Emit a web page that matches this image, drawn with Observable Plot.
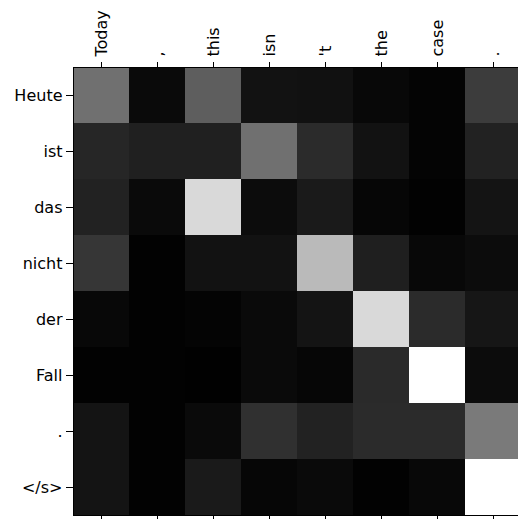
<!DOCTYPE html>
<html>
<head>
<meta charset="utf-8">
<script src="https://cdn.jsdelivr.net/npm/d3@7"></script>
<script src="https://cdn.jsdelivr.net/npm/@observablehq/plot@0.6"></script>
<style>
  html, body { margin: 0; padding: 0; background: #fff; overflow: hidden; }
  #chart svg { display: block; max-width: none !important; }
</style>
</head>
<body>
<div id="chart"></div>
<script>
// Source (English) tokens along the top, target (German) tokens down the side
const sourceTokens = ["Today", ",", "this", "isn", "'t", "the", "case", "."];
const targetTokens = ["Heute", "ist", "das", "nicht", "der", "Fall", ".", "</s>"];

// Attention weights, one row per target token (read from grey levels)
const rowHeute = [0.44, 0.04, 0.37, 0.07, 0.067, 0.03, 0.016, 0.235];
const rowIst   = [0.15, 0.125, 0.125, 0.44, 0.17, 0.07, 0.016, 0.135];
const rowDas   = [0.135, 0.04, 0.85, 0.047, 0.10, 0.024, 0.008, 0.08];
const rowNicht = [0.21, 0.008, 0.07, 0.07, 0.73, 0.12, 0.03, 0.047];
const rowDer   = [0.03, 0.008, 0.016, 0.04, 0.08, 0.85, 0.17, 0.086];
const rowFall  = [0.008, 0.008, 0.004, 0.04, 0.024, 0.165, 1.0, 0.047];
const rowDot   = [0.08, 0.008, 0.04, 0.19, 0.135, 0.17, 0.17, 0.48];
const rowEos   = [0.08, 0.008, 0.10, 0.024, 0.04, 0.008, 0.03, 1.0];

const weights = [rowHeute, rowIst, rowDas, rowNicht, rowDer, rowFall, rowDot, rowEos];

const cells = [];
targetTokens.forEach((t, i) => {
  sourceTokens.forEach((s, j) => {
    cells.push({source: s, target: t, value: weights[i][j]});
  });
});

const chart = Plot.plot({
  width: 522,
  height: 519,
  marginLeft: 73,
  marginRight: 1,
  marginTop: 67,
  marginBottom: 4,
  style: {fontFamily: "DejaVu Sans", fontSize: "16px", color: "#000", background: "#fff", maxWidth: "none"},
  x: {domain: sourceTokens, padding: 0, label: null},
  y: {domain: targetTokens, padding: 0, label: null},
  color: {type: "linear", domain: [0, 1], range: ["#000000", "#ffffff"], interpolate: "rgb"},
  marks: [
    Plot.cell(cells, {x: "source", y: "target", fill: "value", inset: 0, shapeRendering: "crispEdges"}),
    Plot.frame({stroke: "#000", strokeWidth: 1, shapeRendering: "crispEdges"}),
    Plot.axisX({anchor: "top", tickRotate: -90, tickSize: 6, tickPadding: 5, label: null, fontSize: 16, stroke: "#000", strokeOpacity: 1}),
    Plot.axisX({anchor: "bottom", tickSize: 5, tickFormat: () => "", label: null, stroke: "#000", strokeOpacity: 1}),
    Plot.axisY({anchor: "left", tickSize: 7, tickPadding: 4, label: null, fontSize: 16, stroke: "#000", strokeOpacity: 1})
  ]
});
document.getElementById("chart").appendChild(chart);
</script>
</body>
</html>
